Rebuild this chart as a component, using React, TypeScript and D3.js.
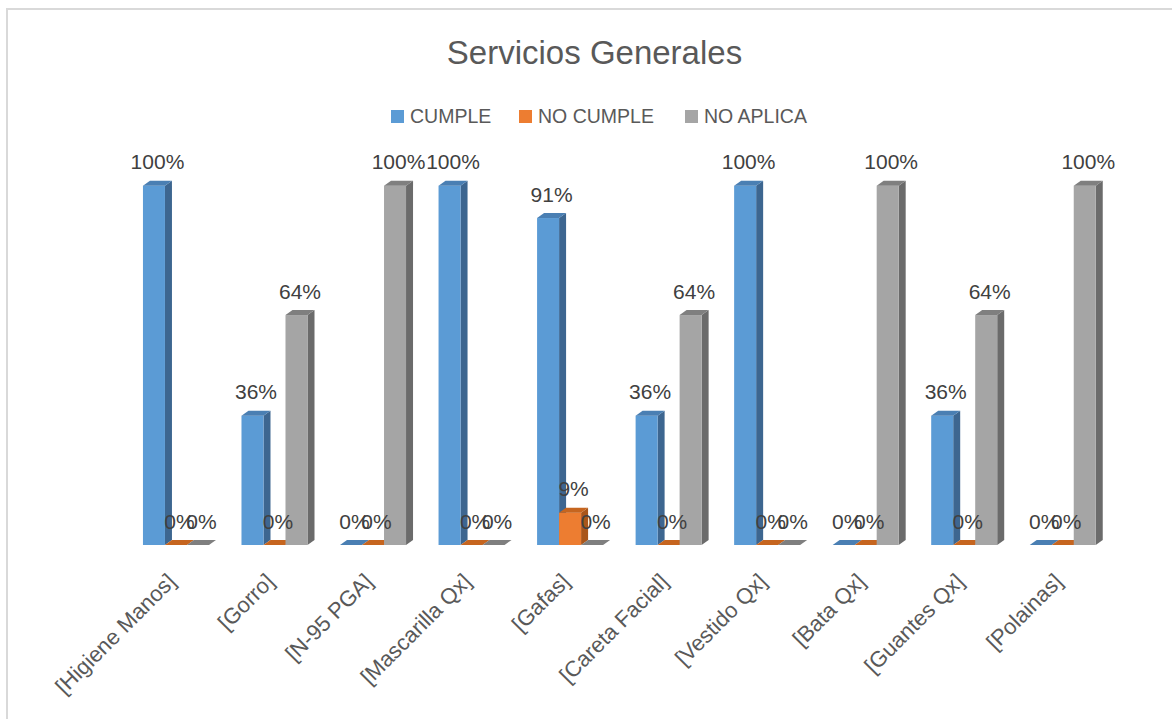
import React from "react";
import * as d3 from "d3";

const categories = [
  "[Higiene Manos]",
  "[Gorro]",
  "[N-95 PGA]",
  "[Mascarilla Qx]",
  "[Gafas]",
  "[Careta Facial]",
  "[Vestido Qx]",
  "[Bata Qx]",
  "[Guantes Qx]",
  "[Polainas]",
];
const seriesNames = ["CUMPLE", "NO CUMPLE", "NO APLICA"];
const cumple = [1.0, 0.36, 0, 1.0, 0.91, 0.36, 1.0, 0, 0.36, 0];
const noCumple = [0, 0, 0, 0, 0.09, 0, 0, 0, 0, 0];
const noAplica = [0, 0.64, 1.0, 0, 0, 0.64, 0, 1.0, 0.64, 1.0];
const seriesValues = [cumple, noCumple, noAplica];

const colors = ["#5B9BD5", "#ED7D31", "#A5A5A5"];
const topColors = ["#4a7fb3", "#c6651f", "#7f7f7f"];
const sideColors = ["#3d6690", "#a9561b", "#6b6b6b"];

const W = 1172;
const H = 719;
const DX = 7;
const DY = 5;
const FONT = "'Liberation Sans', Arial, sans-serif";

export default function App() {
  const x = d3
    .scaleBand<string>()
    .domain(categories)
    .range([126.7, 1112])
    .paddingInner(0.33)
    .paddingOuter(0.165);
  const xs = d3
    .scaleBand<string>()
    .domain(seriesNames)
    .range([0, x.bandwidth()]);
  const y = d3.scaleLinear().domain([0, 1]).range([545, 185.7]);
  const fmt = d3.format(".0%");

  const bars: React.ReactNode[] = [];
  const labels: React.ReactNode[] = [];
  categories.forEach((c, ci) => {
    seriesNames.forEach((s, si) => {
      const v = seriesValues[si][ci];
      const x0 = (x(c) as number) + (xs(s) as number);
      const w = xs.bandwidth();
      const x1 = x0 + w;
      const yb = y(0);
      const yt = y(v);
      const top = `M${x0},${yt}L${x1},${yt}L${x1 + DX},${yt - DY}L${x0 + DX},${yt - DY}Z`;
      const side = `M${x1},${yt}L${x1 + DX},${yt - DY}L${x1 + DX},${yb - DY}L${x1},${yb}Z`;
      bars.push(
        <g key={`b-${ci}-${si}`}>
          {v > 0 && <path d={side} fill={sideColors[si]} />}
          {v > 0 && <rect x={x0} y={yt} width={w} height={yb - yt} fill={colors[si]} />}
          <path d={top} fill={topColors[si]} />
        </g>
      );
      labels.push(
        <text
          key={`l-${ci}-${si}`}
          x={x0 + w / 2 + DX / 2}
          y={yt - DY - 19}
          textAnchor="middle"
          dominantBaseline="central"
          fontSize={21}
          fill="#404040"
          fontFamily={FONT}
        >
          {fmt(v)}
        </text>
      );
    });
  });

  const legendX = [391, 519, 685];

  return (
    <svg width={W} height={H} style={{ display: "block", position: "absolute", left: 0, top: 0 }}>
      <rect x={0} y={0} width={W} height={H} fill="#ffffff" />
      <rect x={7} y={9} width={W + 10} height={H + 10} fill="#ffffff" stroke="#d9d9d9" strokeWidth={2} />
      <text
        x={594.5}
        y={64}
        textAnchor="middle"
        fontSize={33}
        fill="#595959"
        fontFamily={FONT}
      >
        Servicios Generales
      </text>
      {seriesNames.map((s, i) => (
        <g key={s}>
          <rect x={legendX[i]} y={110} width={13} height={13} fill={colors[i]} />
          <text x={legendX[i] + 19} y={123} fontSize={19.5} fill="#595959" fontFamily={FONT}>
            {s}
          </text>
        </g>
      ))}
      {bars}
      {labels}
      {categories.map((c) => {
        const cx = (x(c) as number) + x.bandwidth() / 2 + 1;
        return (
          <text
            key={c}
            transform={`translate(${cx},583) rotate(-45)`}
            textAnchor="end"
            fontSize={22}
            fill="#595959"
            fontFamily={FONT}
          >
            {c}
          </text>
        );
      })}
    </svg>
  );
}
